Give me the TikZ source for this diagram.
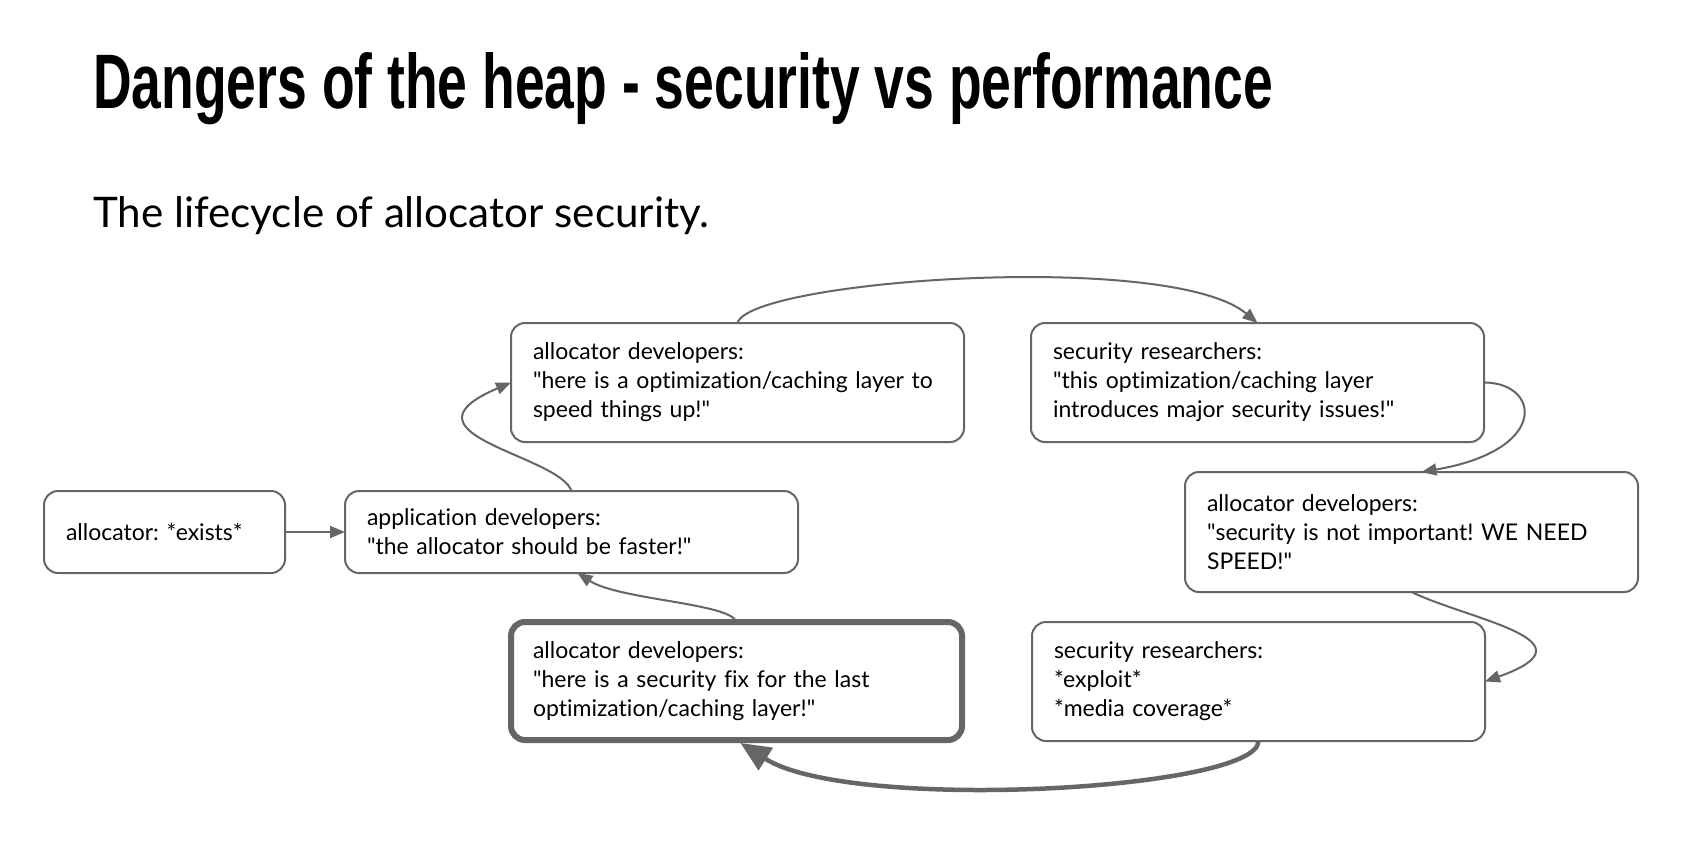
\documentclass[tikz,border=0pt]{standalone}
\usepackage{fontspec}
\setmainfont{Lato}[Ligatures=NoCommon]
\newfontfamily\titlefont{Liberation Sans}
\usetikzlibrary{arrows.meta}
\definecolor{lg}{RGB}{102,102,102}
\newcommand\qd{\textquotedbl}
\frenchspacing
\begin{document}
\begin{tikzpicture}[x=1pt,y=-1pt,
  box/.style={draw=lg, line width=2pt, rounded corners=14pt, anchor=north west,
    inner xsep=22pt, inner ysep=0pt, outer sep=0pt, align=left,
    font=\fontsize{23}{29}\selectfont\frenchspacing},
  hbox/.style={box, line width=6pt},
  conn/.style={draw=lg, line width=2pt, -{Triangle[length=15pt,width=12pt]}, fill=none},
  bigconn/.style={draw=lg, line width=4.5pt, -{Triangle[length=30pt,width=26pt]}}
]
\fill[white] (0,0) rectangle (1681,844);
\useasboundingbox (0,0) rectangle (1681,844);

\node[anchor=base west, inner sep=0pt] (title) at (93,108)
  {\resizebox{1180pt}{56pt}{\titlefont\bfseries Dangers of the heap - security vs performance}};
\node[anchor=base west, inner sep=0pt] (sub) at (93,227)
  {\resizebox{616pt}{!}{\fontsize{40}{48}\selectfont The lifecycle of allocator security.}};

\node[box, text width=197pt, minimum height=82pt] (b1) at (44,491) {allocator: *exists*};
\node[box, text width=409pt, minimum height=82pt] (b2) at (345,491)
  {application developers:\\\qd the allocator should be faster!\qd};
\node[box, text width=409pt, minimum height=119pt] (b3) at (511,323)
  {allocator developers:\\\qd here is a optimization/caching layer to\\speed things up!\qd};
\node[box, text width=409pt, minimum height=119pt] (b4) at (1031,323)
  {security researchers:\\\qd this optimization/caching layer\\introduces major security issues!\qd};
\node[box, text width=409pt, minimum height=120pt] (b5) at (1185,472)
  {allocator developers:\\\qd security is not important! WE NEED\\SPEED!\qd};
\node[box, text width=409pt, minimum height=119pt] (b6) at (1032,622)
  {security researchers:\\{}*exploit*\\{}*media coverage*};
\node[hbox, text width=407pt, minimum height=118pt] (b7) at (511,622)
  {allocator developers:\\\qd here is a security fix for the last\\optimization/caching layer!\qd};

\draw[conn] (b1.east) -- (b2.west);
\draw[conn] (b2.north) .. controls +(-12,-36) and +(-121,52) .. (b3.west);
\draw[conn] (b3.north) .. controls +(12,-43) and +(-87,-73) .. (b4.north);
\draw[conn] (b4.east) .. controls +(56,0) and +(129,-22) .. ([xshift=10pt]b5.north);
\draw[conn] (b5.south) .. controls +(58,28) and +(115,-41) .. (b6.east);
\draw[bigconn] (b6.south) .. controls +(0,49) and +(110,70) .. ([xshift=4pt,yshift=-3pt]b7.south);
\draw[conn] (b7.north) .. controls +(-6,-19) and +(42,27) .. ([xshift=6pt]b2.south);
\end{tikzpicture}
\end{document}
